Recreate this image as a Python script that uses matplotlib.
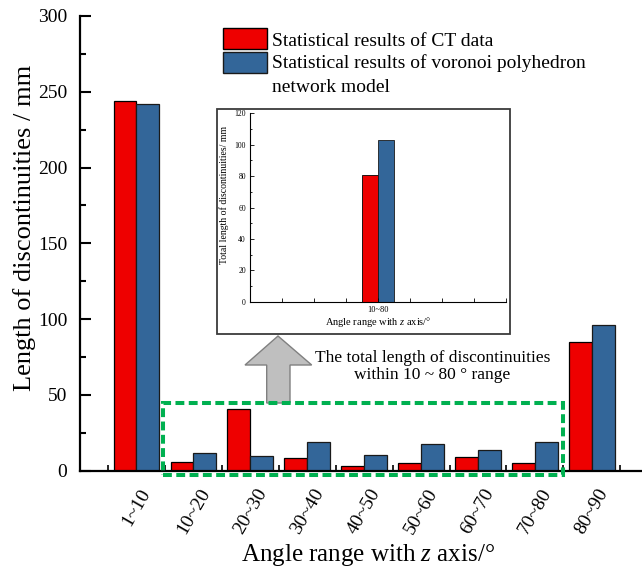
import matplotlib
matplotlib.use("Agg")
import matplotlib.pyplot as plt
import numpy as np
from matplotlib.patches import Rectangle, Polygon
from matplotlib.ticker import MultipleLocator, FixedLocator

# Discontinuity length per angle interval (mm)
categories = ["1~10", "10~20", "20~30", "30~40", "40~50",
              "50~60", "60~70", "70~80", "80~90"]
ct_values = [244, 5.3, 40.4, 8.3, 3.0, 5.0, 9.2, 5.0, 84.6]
voronoi_values = [242, 11.5, 9.4, 18.5, 10.0, 17.3, 13.5, 18.5, 95.8]

# Totals over the 10~80 degree range
inset_category = ["10~80"]
inset_ct = [81]
inset_voronoi = [103]

legend_lines = ["Statistical results of CT data",
                "Statistical results of voronoi polyhedron",
                "network model"]

RED = "#ee0000"
BLUE = "#336699"

plt.rcParams["font.family"] = ["Liberation Serif", "DejaVu Serif"]
plt.rcParams["mathtext.fontset"] = "custom"
plt.rcParams["mathtext.rm"] = "Liberation Serif"
plt.rcParams["mathtext.it"] = "Liberation Serif:italic"

W, H = 642, 572
fig = plt.figure(figsize=(W / 100, H / 100), dpi=100)


def fx(px):
    return px / W


def fy(py):
    return 1 - py / H


# ---- main axes ----
ax = fig.add_axes([fx(80), fy(470.5), fx(W - 80), (470.5 - 16) / H])
x = np.arange(len(categories))
bw = 0.4
ax.bar(x - bw / 2, ct_values, bw, color=RED, edgecolor="black", linewidth=0.9)
ax.bar(x + bw / 2, voronoi_values, bw, color=BLUE, edgecolor="#1a1a1a", linewidth=0.9)

ax.set_xlim(-0.99, 8.88)
ax.set_ylim(0, 300)
for s in ("top", "right"):
    ax.spines[s].set_visible(False)
for s in ("left", "bottom"):
    ax.spines[s].set_linewidth(1.6)

ax.set_xticks(x)
ax.set_xticklabels(categories, rotation=60, ha="center", fontsize=14)
ax.xaxis.set_minor_locator(FixedLocator(np.arange(-0.5, len(categories), 1)))
ax.tick_params(axis="x", which="major", length=0, pad=11)
ax.tick_params(axis="x", which="minor", direction="in", length=4, width=1.2)

ax.yaxis.set_major_locator(MultipleLocator(50))
ax.yaxis.set_minor_locator(MultipleLocator(25))
ax.tick_params(axis="y", which="major", direction="in", length=8, width=1.5,
               labelsize=14, pad=9)
ax.tick_params(axis="y", which="minor", direction="in", length=4, width=1.5)

ax.set_ylabel("Length of discontinuities / mm", fontsize=19)
ax.yaxis.set_label_coords((36 - 80) / (W - 80), (470.5 - 228) / 454.5)
ax.set_xlabel("Angle range with $z$ axis/°", fontsize=18)
ax.xaxis.set_label_coords((368 - 80) / (W - 80), (470.5 - 542) / 454.5)

# ---- legend ----
for i, (col, ec) in enumerate([(RED, "black"), (BLUE, "#1a1a1a")]):
    top = 28.3 + i * 24
    fig.patches.append(Rectangle((fx(223), fy(top + 21)), fx(44), 21 / H,
                                 facecolor=col, edgecolor=ec, linewidth=1.0,
                                 transform=fig.transFigure, figure=fig))
for line, base in zip(legend_lines, [46, 68.5, 91.5]):
    fig.text(fx(272), fy(base), line, fontsize=14, va="baseline", ha="left")

# ---- inset with totals ----
frame = Rectangle((fx(216.5), fy(334)), fx(510.5 - 216.5), (334 - 109) / H,
                  facecolor="white", edgecolor="#3a3a3a", linewidth=1.3,
                  transform=fig.transFigure, figure=fig, zorder=0.5)
fig.patches.append(frame)

axin = fig.add_axes([fx(250), fy(301.7), fx(256), (301.7 - 113.3) / H])
axin.set_zorder(2)
axin.patch.set_alpha(0)
ib = 0.5
xi = np.arange(len(inset_category))
axin.bar(xi - ib / 2, inset_ct, ib, color=RED, edgecolor="black", linewidth=0.6)
axin.bar(xi + ib / 2, inset_voronoi, ib, color=BLUE, edgecolor="#1a1a1a", linewidth=0.6)
axin.set_xlim(-4, 4)
axin.set_ylim(0, 120)
for s in ("top", "right"):
    axin.spines[s].set_visible(False)
for s in ("left", "bottom"):
    axin.spines[s].set_linewidth(0.8)
ticks_in = np.arange(-3, 5)
axin.set_xticks(ticks_in)
axin.set_xticklabels([inset_category[0] if t == 0 else "" for t in ticks_in], fontsize=6)
axin.yaxis.set_major_locator(MultipleLocator(20))
axin.yaxis.set_minor_locator(MultipleLocator(10))
axin.tick_params(axis="x", which="major", direction="in", length=3, width=0.6, pad=3)
axin.tick_params(axis="y", which="major", direction="in", length=3, width=0.6,
                 labelsize=5.5, pad=3)
axin.tick_params(axis="y", which="minor", direction="in", length=1.5, width=0.6)
axin.set_ylabel("Total length of discontinuities/ mm", fontsize=7)
axin.yaxis.set_label_coords((229 - 250) / 256, (301.7 - 195) / 188.4)
axin.set_xlabel("Angle range with $z$ axis/°", fontsize=7.5)
axin.xaxis.set_label_coords((378 - 250) / 256, (301.7 - 315) / 188.4)

# ---- arrow pointing to the inset ----
arrow_px = [(278, 336), (311.7, 365), (290, 365), (290, 403), (266.7, 403),
            (266.7, 365), (245, 365)]
arrow = Polygon([(fx(a), fy(b)) for a, b in arrow_px], closed=True,
                facecolor="#bfbfbf", edgecolor="#808080", linewidth=1.0,
                transform=fig.transFigure, figure=fig)
fig.patches.append(arrow)

fig.text(fx(432.5), fy(362), "The total length of discontinuities", fontsize=12.5,
         ha="center", va="baseline")
fig.text(fx(432.5), fy(379), "within 10 ~ 80 ° range", fontsize=12.5,
         ha="center", va="baseline")

# ---- dashed green box around the 10~80 range ----
box = Rectangle((fx(162.7), fy(475)), fx(563.3 - 162.7), (475 - 403.3) / H,
                facecolor="none", edgecolor="#00b050", linewidth=2.9,
                linestyle=(0, (2.2, 1.1)), transform=fig.transFigure, figure=fig)
fig.patches.append(box)

fig.savefig("out.png", dpi=100)
